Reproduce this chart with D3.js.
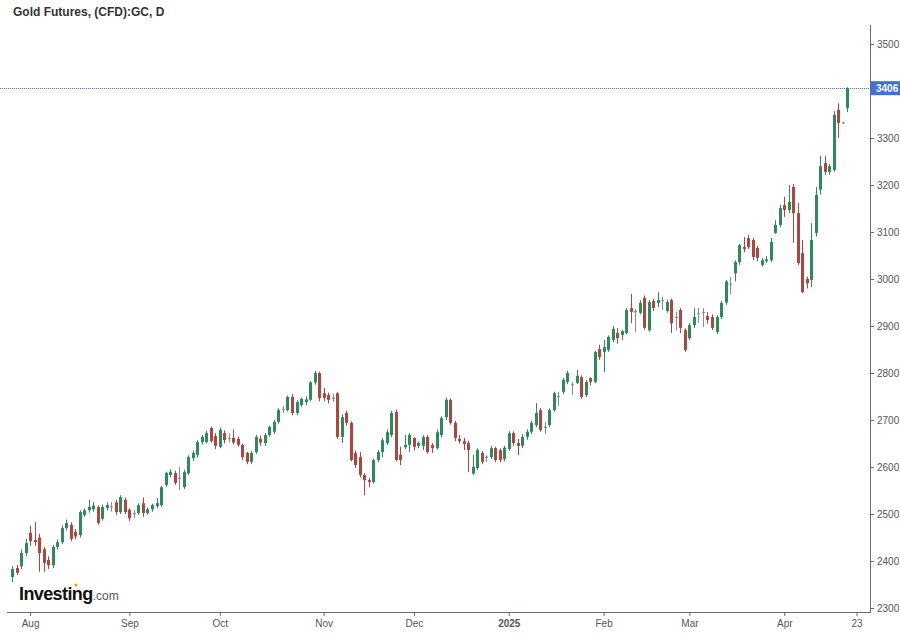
<!DOCTYPE html>
<html>
<head>
<meta charset="utf-8">
<script src="https://cdn.jsdelivr.net/npm/d3@7"></script>
<style>
  body { margin: 0; background: #fff; }
  svg { display: block; font-family: "Liberation Sans", Arial, sans-serif; }
</style>
</head>
<body>
<svg id="chart" width="900" height="637"></svg>
<script>
// trading days, grouped by month (day numbers)
const tradingDays = {
    "2024-07": [26, 29, 30, 31],
    "2024-08": [1, 2, 5, 6, 7, 8, 9, 12, 13, 14, 15, 16, 19, 20, 21, 22, 23, 26, 27, 28, 29, 30],
    "2024-09": [3, 4, 5, 6, 9, 10, 11, 12, 13, 16, 17, 18, 19, 20, 23, 24, 25, 26, 27, 30],
    "2024-10": [1, 2, 3, 4, 7, 8, 9, 10, 11, 14, 15, 16, 17, 18, 21, 22, 23, 24, 25, 28, 29, 30, 31],
    "2024-11": [1, 4, 5, 6, 7, 8, 11, 12, 13, 14, 15, 18, 19, 20, 21, 22, 25, 26, 27, 29],
    "2024-12": [2, 3, 4, 5, 6, 9, 10, 11, 12, 13, 16, 17, 18, 19, 20, 23, 24, 26, 27, 30, 31],
    "2025-01": [2, 3, 6, 7, 8, 9, 10, 13, 14, 15, 16, 17, 21, 22, 23, 24, 27, 28, 29, 30, 31],
    "2025-02": [3, 4, 5, 6, 7, 10, 11, 12, 13, 14, 18, 19, 20, 21, 24, 25, 26, 27, 28],
    "2025-03": [3, 4, 5, 6, 7, 10, 11, 12, 13, 14, 17, 18, 19, 20, 21, 24, 25, 26, 27, 28, 31],
    "2025-04": [1, 2, 3, 4, 7, 8, 9, 10, 11, 14, 15, 16, 17, 18, 21]
};
// empty slots on the right of the last candle
const futureDays = ["2025-04-22", "2025-04-23"];

const opens = [
    2366, 2385, 2389, 2417,
    2460, 2445, 2450, 2425, 2402, 2391, 2430, 2440, 2470, 2477, 2462, 2455, 2498, 2508, 2510, 2515, 2490, 2513, 2515, 2525, 2504, 2530,
    2509, 2502, 2502, 2523, 2502, 2510, 2517, 2519, 2562, 2583, 2587, 2575, 2557, 2587, 2619, 2626, 2653, 2653, 2683, 2666,
    2643, 2672, 2660, 2662, 2660, 2647, 2630, 2611, 2632, 2660, 2651, 2668, 2675, 2696, 2722, 2721, 2749, 2715, 2732, 2738, 2743, 2780, 2800,
    2757, 2753, 2745, 2757, 2664, 2715, 2694, 2630, 2621, 2583, 2572, 2568, 2615, 2632, 2651, 2668, 2717, 2626, 2642, 2647,
    2662, 2645, 2645, 2664, 2647, 2640, 2668, 2706, 2743, 2694, 2660, 2655, 2651, 2586, 2598, 2630, 2619, 2621, 2640, 2636, 2617,
    2638, 2672, 2651, 2645, 2664, 2675, 2689, 2721, 2683, 2689, 2721, 2751, 2760, 2781, 2776, 2779, 2791, 2753, 2789, 2781, 2851,
    2845, 2849, 2870, 2885, 2881, 2885, 2938, 2932, 2928, 2960, 2891, 2953, 2949, 2955, 2932, 2955, 2919, 2934, 2891,
    2874, 2902, 2925, 2930, 2921, 2919, 2887, 2919, 2950, 2990, 3012, 3036, 3068, 3087, 3083, 3066, 3030, 3038, 3040, 3098, 3115,
    3157, 3147, 3196, 3140, 3055, 3000, 2998, 3098, 3190, 3247, 3228, 3232, 3360, 3332, 3364
];
const highs = [
    2389, 2392, 2425, 2447,
    2475, 2483, 2458, 2430, 2410, 2434, 2446, 2476, 2488, 2482, 2468, 2508, 2512, 2530, 2525, 2518, 2520, 2525, 2525, 2530, 2540, 2535,
    2512, 2508, 2523, 2535, 2514, 2522, 2534, 2560, 2590, 2595, 2592, 2600, 2594, 2625, 2635, 2657, 2668, 2677, 2686, 2672,
    2684, 2678, 2672, 2680, 2665, 2650, 2632, 2634, 2668, 2667, 2672, 2688, 2700, 2725, 2730, 2752, 2755, 2742, 2748, 2750, 2783, 2805, 2803,
    2768, 2758, 2755, 2760, 2712, 2720, 2697, 2635, 2632, 2587, 2577, 2618, 2636, 2662, 2680, 2720, 2722, 2643, 2668, 2672,
    2663, 2655, 2668, 2668, 2651, 2680, 2708, 2748, 2746, 2698, 2668, 2662, 2656, 2626, 2640, 2634, 2625, 2645, 2643, 2640, 2645,
    2676, 2676, 2660, 2670, 2680, 2698, 2736, 2725, 2696, 2725, 2760, 2760, 2790, 2805, 2781, 2806, 2795, 2785, 2791, 2847, 2860,
    2870, 2880, 2900, 2896, 2892, 2938, 2968, 2936, 2955, 2965, 2955, 2958, 2972, 2962, 2956, 2958, 2930, 2938, 2895,
    2906, 2938, 2938, 2938, 2930, 2925, 2923, 2953, 2998, 3004, 3040, 3075, 3089, 3094, 3088, 3070, 3045, 3049, 3087, 3125, 3158,
    3175, 3200, 3202, 3162, 3083, 3005, 3119, 3196, 3262, 3262, 3245, 3357, 3374, 3335, 3408
];
const lows = [
    2355, 2370, 2383, 2410,
    2432, 2432, 2377, 2377, 2383, 2385, 2424, 2436, 2465, 2442, 2446, 2450, 2494, 2503, 2505, 2477, 2486, 2508, 2505, 2498, 2500, 2500,
    2485, 2492, 2498, 2494, 2498, 2505, 2512, 2515, 2558, 2578, 2562, 2551, 2553, 2583, 2613, 2620, 2648, 2650, 2652, 2638,
    2640, 2650, 2652, 2648, 2643, 2615, 2606, 2606, 2628, 2645, 2645, 2664, 2670, 2692, 2715, 2718, 2710, 2710, 2728, 2732, 2740, 2775, 2740,
    2740, 2735, 2738, 2660, 2651, 2688, 2612, 2598, 2578, 2540, 2557, 2565, 2610, 2621, 2647, 2664, 2612, 2604, 2638, 2632,
    2635, 2640, 2636, 2628, 2630, 2637, 2664, 2700, 2690, 2655, 2650, 2636, 2589, 2583, 2594, 2606, 2612, 2617, 2610, 2610, 2612,
    2634, 2645, 2625, 2640, 2658, 2670, 2685, 2675, 2670, 2685, 2718, 2730, 2755, 2776, 2753, 2776, 2745, 2749, 2774, 2778, 2828,
    2802, 2845, 2866, 2862, 2870, 2882, 2906, 2887, 2925, 2892, 2888, 2932, 2940, 2934, 2928, 2885, 2891, 2885, 2845,
    2870, 2896, 2906, 2898, 2905, 2891, 2883, 2915, 2945, 2968, 2995, 3030, 3057, 3064, 3040, 3038, 3026, 3034, 3036, 3096, 3110,
    3132, 3140, 3077, 3030, 2970, 2980, 2983, 3090, 3180, 3221, 3222, 3228, 3300, 3330, 3355
];
const closes = [
    2383, 2375, 2417, 2438,
    2442, 2440, 2417, 2396, 2391, 2430, 2440, 2470, 2481, 2447, 2452, 2504, 2508, 2515, 2518, 2481, 2515, 2519, 2516, 2504, 2536, 2504,
    2491, 2500, 2519, 2502, 2510, 2519, 2523, 2557, 2587, 2590, 2566, 2577, 2589, 2621, 2630, 2653, 2664, 2672, 2655, 2645,
    2679, 2657, 2662, 2652, 2647, 2621, 2611, 2630, 2664, 2652, 2668, 2685, 2696, 2721, 2724, 2749, 2715, 2738, 2745, 2744, 2780, 2800, 2747,
    2747, 2743, 2748, 2664, 2706, 2694, 2615, 2604, 2583, 2572, 2568, 2615, 2632, 2657, 2674, 2715, 2615, 2615, 2647, 2668,
    2643, 2651, 2664, 2632, 2640, 2674, 2704, 2743, 2694, 2662, 2655, 2649, 2636, 2600, 2636, 2611, 2622, 2640, 2615, 2615, 2641,
    2672, 2651, 2645, 2664, 2675, 2694, 2715, 2679, 2686, 2721, 2757, 2749, 2785, 2800, 2774, 2794, 2749, 2781, 2781, 2845, 2834,
    2855, 2877, 2894, 2874, 2889, 2934, 2930, 2929, 2949, 2896, 2951, 2938, 2955, 2953, 2951, 2906, 2917, 2896, 2849,
    2902, 2919, 2927, 2928, 2913, 2896, 2919, 2949, 2995, 2988, 3036, 3072, 3064, 3068, 3047, 3045, 3040, 3042, 3079, 3115, 3151,
    3147, 3164, 3140, 3034, 2972, 2991, 3083, 3179, 3240, 3228, 3240, 3349, 3332, 3333, 3406
];

const yTicks = [2300, 2400, 2500, 2600, 2700, 2800, 2900, 3000, 3100, 3200, 3300, 3400, 3500];
const xTickDates = ["2024-08-01", "2024-09-03", "2024-10-01", "2024-11-01", "2024-12-02",
    "2025-01-02", "2025-02-03", "2025-03-03", "2025-04-01", "2025-04-23"];
const xTickLabels = ["Aug", "Sep", "Oct", "Nov", "Dec", "2025", "Feb", "Mar", "Apr", "23"];
const lastPrice = 3406;

// build the date list
const dates = [];
Object.keys(tradingDays).forEach(m => {
    tradingDays[m].forEach(d => dates.push(m + "-" + String(d).padStart(2, "0")));
});
const allDays = dates.concat(futureDays);

const data = dates.map((d, i) => ({
    date: d, open: opens[i], high: highs[i], low: lows[i], close: closes[i]
}));

const GREEN = "#2f8a5b";
const RED = "#ad4640";
const GREY = "#8a8a8a";
const AXIS = "#6b6b6b";

const svg = d3.select("#chart");

const x = d3.scaleLinear()
    .domain([0, allDays.length - 1])
    .range([12, 856.5]);
const y = d3.scaleLinear()
    .domain([2300, 3500])
    .range([608, 44]);

const axisX = 870, axisY = 612;

// title
svg.append("text")
    .attr("x", 13).attr("y", 16)
    .style("font-size", "12px").style("font-weight", "bold")
    .style("fill", "#333")
    .text("Gold Futures, (CFD):GC, D");

// last price dotted line
svg.append("line")
    .attr("x1", 0).attr("x2", axisX)
    .attr("y1", Math.round(y(lastPrice)) + 0.5).attr("y2", Math.round(y(lastPrice)) + 0.5)
    .attr("stroke", "#4a73d6").attr("stroke-width", 1)
    .attr("stroke-dasharray", "1,1");

// candles
const candle = svg.append("g")
    .selectAll("g")
    .data(data)
    .enter()
    .append("g");

const colorOf = d => Math.abs(d.close - d.open) < 4 ? GREY : (d.close >= d.open ? GREEN : RED);

candle.append("line")
    .attr("x1", (d, i) => Math.round(x(i)) + 0.5)
    .attr("x2", (d, i) => Math.round(x(i)) + 0.5)
    .attr("y1", d => y(d.high))
    .attr("y2", d => y(d.low))
    .attr("stroke", colorOf)
    .attr("stroke-width", 1);

candle.append("rect")
    .attr("x", (d, i) => Math.round(x(i)) - 1)
    .attr("width", 3)
    .attr("y", d => y(Math.max(d.open, d.close)))
    .attr("height", d => Math.max(1, Math.abs(y(d.open) - y(d.close))))
    .attr("fill", colorOf);

// right axis
svg.append("line")
    .attr("x1", axisX + 0.5).attr("x2", axisX + 0.5)
    .attr("y1", 25).attr("y2", axisY)
    .attr("stroke", AXIS);

const yAxis = svg.append("g")
    .attr("transform", `translate(${axisX}, 0)`)
    .call(d3.axisRight(y).tickValues(yTicks).tickSize(4).tickPadding(3).tickFormat(d3.format("d")));
yAxis.select(".domain").remove();
yAxis.selectAll("line").attr("stroke", AXIS);
yAxis.selectAll("text")
    .style("font-size", "10px").style("fill", "#555")
    .style("font-family", "'Liberation Sans', Arial, sans-serif");
// the last-price badge sits where the 3400 label would be
yAxis.selectAll(".tick")
    .filter(d => Math.abs(y(d) - y(lastPrice)) < 12)
    .select("text").remove();

// bottom axis
svg.append("line")
    .attr("x1", 7).attr("x2", axisX + 1)
    .attr("y1", axisY + 0.5).attr("y2", axisY + 0.5)
    .attr("stroke", AXIS);

const xAxis = svg.append("g")
    .attr("transform", `translate(0, ${axisY})`)
    .call(d3.axisBottom(x)
        .tickValues(xTickDates.map(d => allDays.indexOf(d)))
        .tickSize(4).tickPadding(4)
        .tickFormat((d, i) => xTickLabels[i]));
xAxis.select(".domain").remove();
xAxis.selectAll("line").attr("stroke", AXIS);
xAxis.selectAll("text")
    .style("font-size", "10px").style("fill", "#555")
    .style("font-family", "'Liberation Sans', Arial, sans-serif")
    .style("font-weight", (d, i) => xTickLabels[i] === "2025" ? "bold" : "normal");

// last price badge
const badgeY = y(lastPrice);
svg.append("rect")
    .attr("x", axisX + 1).attr("y", badgeY - 7)
    .attr("width", 30).attr("height", 14)
    .attr("fill", "#3f6fd8");
svg.append("text")
    .attr("x", axisX + 6).attr("y", badgeY + 3.5)
    .style("font-size", "10px").style("font-weight", "bold")
    .style("fill", "#fff")
    .text(lastPrice);

// watermark logo
const logo = svg.append("text")
    .attr("x", 19).attr("y", 600);
logo.append("tspan")
    .style("font-size", "18px").style("font-weight", "bold")
    .style("letter-spacing", "-0.6px")
    .style("fill", "#111")
    .text("Investing");
logo.append("tspan")
    .style("font-size", "12px")
    .style("fill", "#555")
    .text(".com");
svg.append("circle")
    .attr("cx", 76).attr("cy", 585).attr("r", 1.6)
    .attr("fill", "#f0a500");
</script>
</body>
</html>
